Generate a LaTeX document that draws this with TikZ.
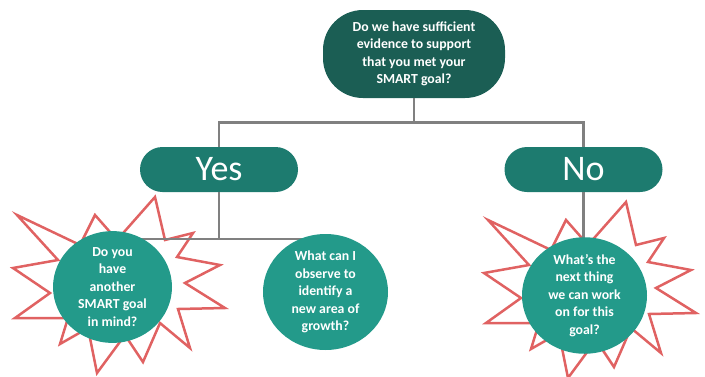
\documentclass[tikz,border=0pt]{standalone}
\usepackage{fontspec}
\setmainfont{Carlito}
\usetikzlibrary{shapes.geometric}

\definecolor{deepteal}{HTML}{1B5E54}
\definecolor{midteal}{HTML}{1D7B6F}
\definecolor{lightteal}{HTML}{239A8A}
\definecolor{burstred}{HTML}{E06262}
\definecolor{linkgray}{HTML}{808080}

\tikzset{
  qtext/.style={text=white, align=center,
    font=\bfseries\fontsize{13.8}{17.5}\selectfont},
  rootbox/.style={qtext, fill=deepteal, rounded corners=40pt,
    minimum width=182pt, minimum height=88pt, inner sep=0pt},
  answer/.style={fill=midteal, text=white, rounded corners=22.5pt,
    minimum width=158pt, minimum height=45pt, inner sep=0pt,
    font=\fontsize{36}{40}\selectfont},
  bubble/.style={qtext, ellipse, fill=lightteal, inner sep=0pt},
  link/.style={draw=linkgray, line width=2.8pt},
  burstline/.style={draw=burstred, line width=2.5pt, line join=miter},
  burst/.pic={
    \draw[burstline] (155,197) -- (165,240) -- (193,233) -- (177,257)
      -- (220,265) -- (185,283) -- (225,308) -- (178,309) -- (190,348)
      -- (160,323) -- (143,362) -- (125,335) -- (97,373) -- (88,328)
      -- (60,344) -- (68,318) -- (15,318) -- (50,293) -- (13,268)
      -- (58,260) -- (17,215) -- (80,245) -- (95,215) -- (117,240) -- cycle;
  }
}

\begin{document}
\begin{tikzpicture}[x=1pt, y=-1pt]
  \useasboundingbox (0,0) rectangle (705,376);

  % starbursts behind the two highlighted questions
  \pic at (0,0) {burst};
  \pic at (471,5) {burst};

  % root question and the two answers
  \node[rootbox] (root) at (414,54)
    {Do we have sufficient\\evidence to support\\that you met your\\SMART goal?};
  \node[answer] (yes) at (219,169.5) {Yes};
  \node[answer] (no) at (583.5,169.5) {No};

  % connectors from the root to the answers
  \coordinate (rj) at (414,122.5);
  \draw[link] (root.south) -- (rj);
  \draw[link] (yes.north) |- (rj) -| (no.north);

  % follow-up questions
  \coordinate (yj) at (219,239);
  \coordinate (yl) at (133,239);
  \coordinate (yr) at (305,239);
  \draw[link] (yes.south) -- (yj);
  \draw[link] (yl) -- (yr);

  \node[bubble, minimum width=119pt, minimum height=97pt] (another) at (112.5,287)
    {Do you\\have\\another\\SMART goal\\in mind?};
  \node[bubble, minimum width=125pt, minimum height=107pt] (observe) at (325.5,292)
    {What can I\\observe to\\identify a\\new area of\\growth?};

  \draw[link] (no.south) -- (583.5,250);
  \node[bubble, minimum width=125pt, minimum height=95pt] (next) at (584.5,295.5)
    {What’s the\\next thing\\we can work\\on for this\\goal?};
\end{tikzpicture}
\end{document}
